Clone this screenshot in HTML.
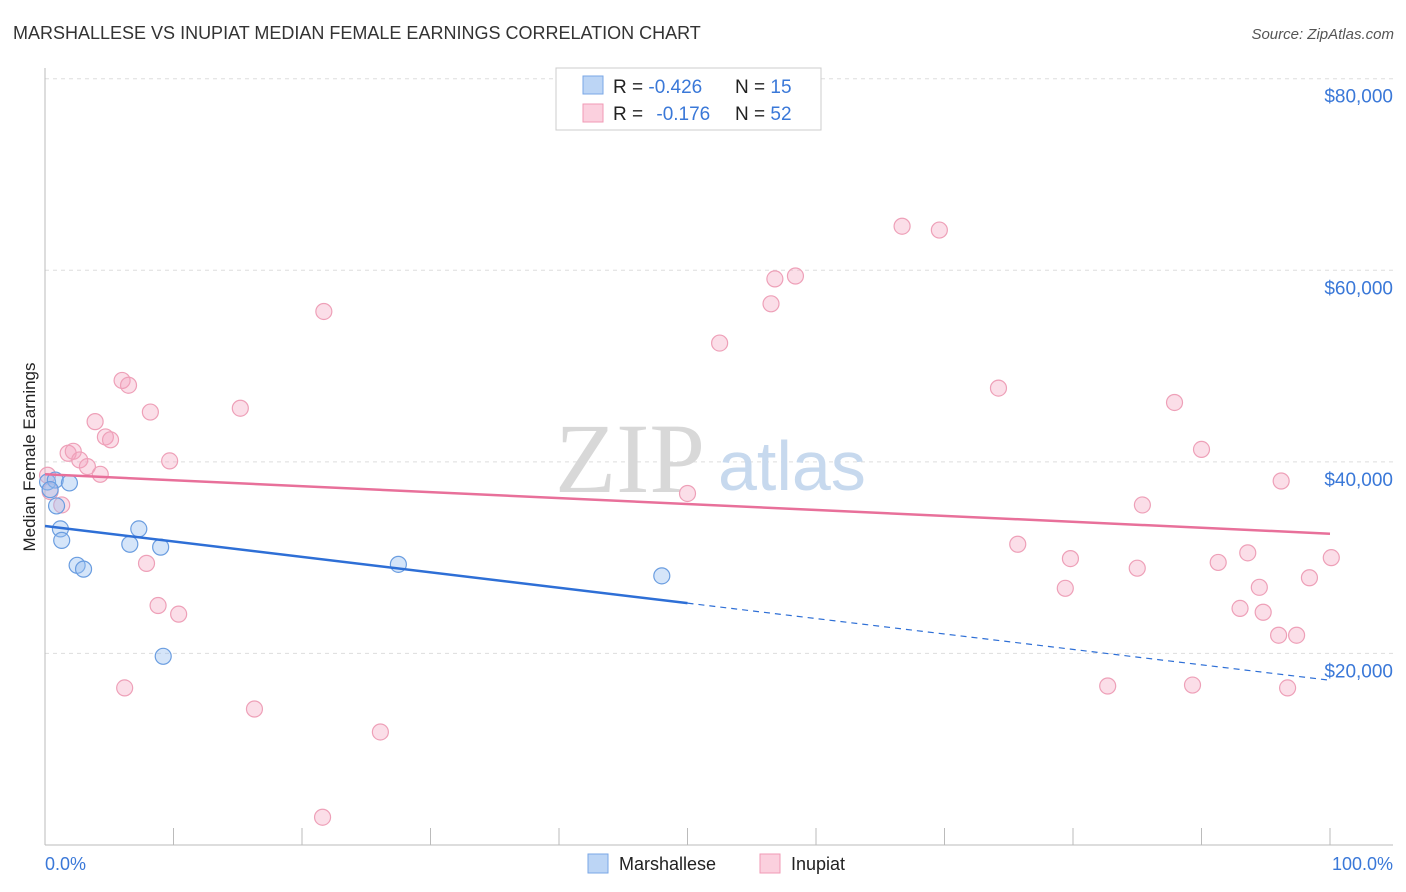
<!DOCTYPE html>
<html><head><meta charset="utf-8"><style>
body{margin:0;background:#fff;font-family:"Liberation Sans",sans-serif;}
svg{display:block}
</style></head><body>
<svg id="c" width="1406" height="892">
<text x="13" y="39" font-size="18" fill="#333">MARSHALLESE VS INUPIAT MEDIAN FEMALE EARNINGS CORRELATION CHART</text>
<text x="1394" y="39" font-size="15" fill="#555" font-style="italic" text-anchor="end">Source: ZipAtlas.com</text>
<text x="35" y="457" font-size="17" fill="#222" text-anchor="middle" transform="rotate(-90 35 457)">Median Female Earnings</text>
<g id="grid"></g>
<text x="555" y="492" font-size="100" fill="#d8d8d8" font-family="Liberation Serif,serif">ZIP</text>
<text x="718" y="490" font-size="70" fill="#c7d9ee">atlas</text>
<g id="pts"></g>
<g id="lines"></g>
<text x="45" y="870" font-size="18" fill="#3a78d8">0.0%</text>
<text x="1393" y="870" font-size="18" fill="#3a78d8" text-anchor="end">100.0%</text>
<g>
<rect x="556" y="68" width="265" height="62" fill="#fff" stroke="#ccc"/>
<rect x="583" y="76" width="20" height="18" fill="#bcd5f5" stroke="#7aa7e6"/>
<rect x="583" y="104" width="20" height="18" fill="#fbd0de" stroke="#f09ab5"/>
<text x="613" y="93" font-size="19" fill="#222">R = <tspan fill="#3a78d8">-0.426</tspan><tspan x="735">N = </tspan><tspan fill="#3a78d8">15</tspan></text>
<text x="613" y="120" font-size="19" fill="#222">R = <tspan fill="#3a78d8" dx="8">-0.176</tspan><tspan x="735">N = </tspan><tspan fill="#3a78d8">52</tspan></text>
</g>
<g>
<rect x="588" y="854" width="20" height="19" fill="#bcd5f5" stroke="#7aa7e6"/>
<text x="619" y="870" font-size="18" fill="#222">Marshallese</text>
<rect x="760" y="854" width="20" height="19" fill="#fbd0de" stroke="#f09ab5"/>
<text x="791" y="870" font-size="18" fill="#222">Inupiat</text>
</g>
</svg>
<script>
const blueX=[0.2,0.8,0.9,1.2,1.3,1.9,2.5,3.0,6.6,7.3,9.0,9.2,27.5,48.0,0.4];
const blueY=[37900,38100,35400,33000,31800,37800,29200,28800,31400,33000,31100,19700,29300,28100,37100];
const pinkX=[0.2,0.4,1.3,1.8,2.2,2.7,3.3,3.9,4.3,4.7,5.1,6.0,6.5,7.9,8.2,8.8,9.7,10.4,6.2,15.2,16.3,21.7,21.6,26.1,50.0,52.5,56.5,56.8,58.4,66.7,69.6,74.2,75.7,79.4,79.8,82.7,85.0,85.4,87.9,89.3,90.0,91.3,93.0,93.6,94.5,94.8,96.0,96.2,96.7,97.4,98.4,100.1];
const pinkY=[38600,36900,35500,40900,41100,40200,39500,44200,38700,42600,42300,48500,48000,29400,45200,25000,40100,24100,16400,45600,14200,55700,2900,11800,36700,52400,56500,59100,59400,64600,64200,47700,31400,26800,29900,16600,28900,35500,46200,16700,41300,29500,24700,30500,26900,24300,21900,38000,16400,21900,27900,30000];
const yTicks=[20000,40000,60000,80000];
const yTickLabels=["$20,000","$40,000","$60,000","$80,000"];
const xTicks=[0,10,20,30,40,50,60,70,80,90,100];
const blueTrend=[33300,17200];
const pinkTrend=[38700,32500];
const NS="http://www.w3.org/2000/svg";
const X=p=>45+p*12.85, Y=v=>845-v/104.4;
function mk(t,a,p){const e=document.createElementNS(NS,t);for(const k in a)e.setAttribute(k,a[k]);p.appendChild(e);return e;}
const g=document.getElementById('grid');
yTicks.forEach((v,i)=>{
 const l=mk('line',{x1:45,x2:1393,y1:Y(v),y2:Y(v),stroke:'#ddd','stroke-dasharray':'4,4'},g);
 
 
 const t=mk('text',{x:1393,y:Y(v)+24,'font-size':19,fill:'#3a78d8','text-anchor':'end'},g);
 t.textContent=yTickLabels[i];
 
 
});
let ax=mk('line',{x1:45,x2:45,y1:68,y2:845,stroke:'#bbb'},g);


ax=mk('line',{x1:45,x2:1393,y1:845,y2:845,stroke:'#bbb'},g);


xTicks.forEach(p=>{
 const l=mk('line',{x1:X(p),x2:X(p),y1:828,y2:845,stroke:'#bbb'},g);
 
 
});
const pg=document.getElementById('pts');
pinkX.forEach((p,i)=>{
 const c=mk('circle',{cx:X(p),cy:Y(pinkY[i]),r:8,fill:'rgba(244,160,188,0.35)',stroke:'#eea0b8','stroke-width':1.2},pg);
 
 
});
blueX.forEach((p,i)=>{
 const c=mk('circle',{cx:X(p),cy:Y(blueY[i]),r:8,fill:'rgba(150,190,240,0.4)',stroke:'#6a9de0','stroke-width':1.2},pg);
 
 
});
const lg=document.getElementById('lines');
const bm=blueTrend[0]+(blueTrend[1]-blueTrend[0])*0.5;
let l=mk('line',{x1:X(0),y1:Y(blueTrend[0]),x2:X(50),y2:Y(bm),stroke:'#2e6fd6','stroke-width':2.5},lg);


l=mk('line',{x1:X(50),y1:Y(bm),x2:X(100),y2:Y(blueTrend[1]),stroke:'#2e6fd6','stroke-width':1.2,'stroke-dasharray':'6,5'},lg);


l=mk('line',{x1:X(0),y1:Y(pinkTrend[0]),x2:X(100),y2:Y(pinkTrend[1]),stroke:'#e8709a','stroke-width':2.5},lg);


</script>
</body></html>
